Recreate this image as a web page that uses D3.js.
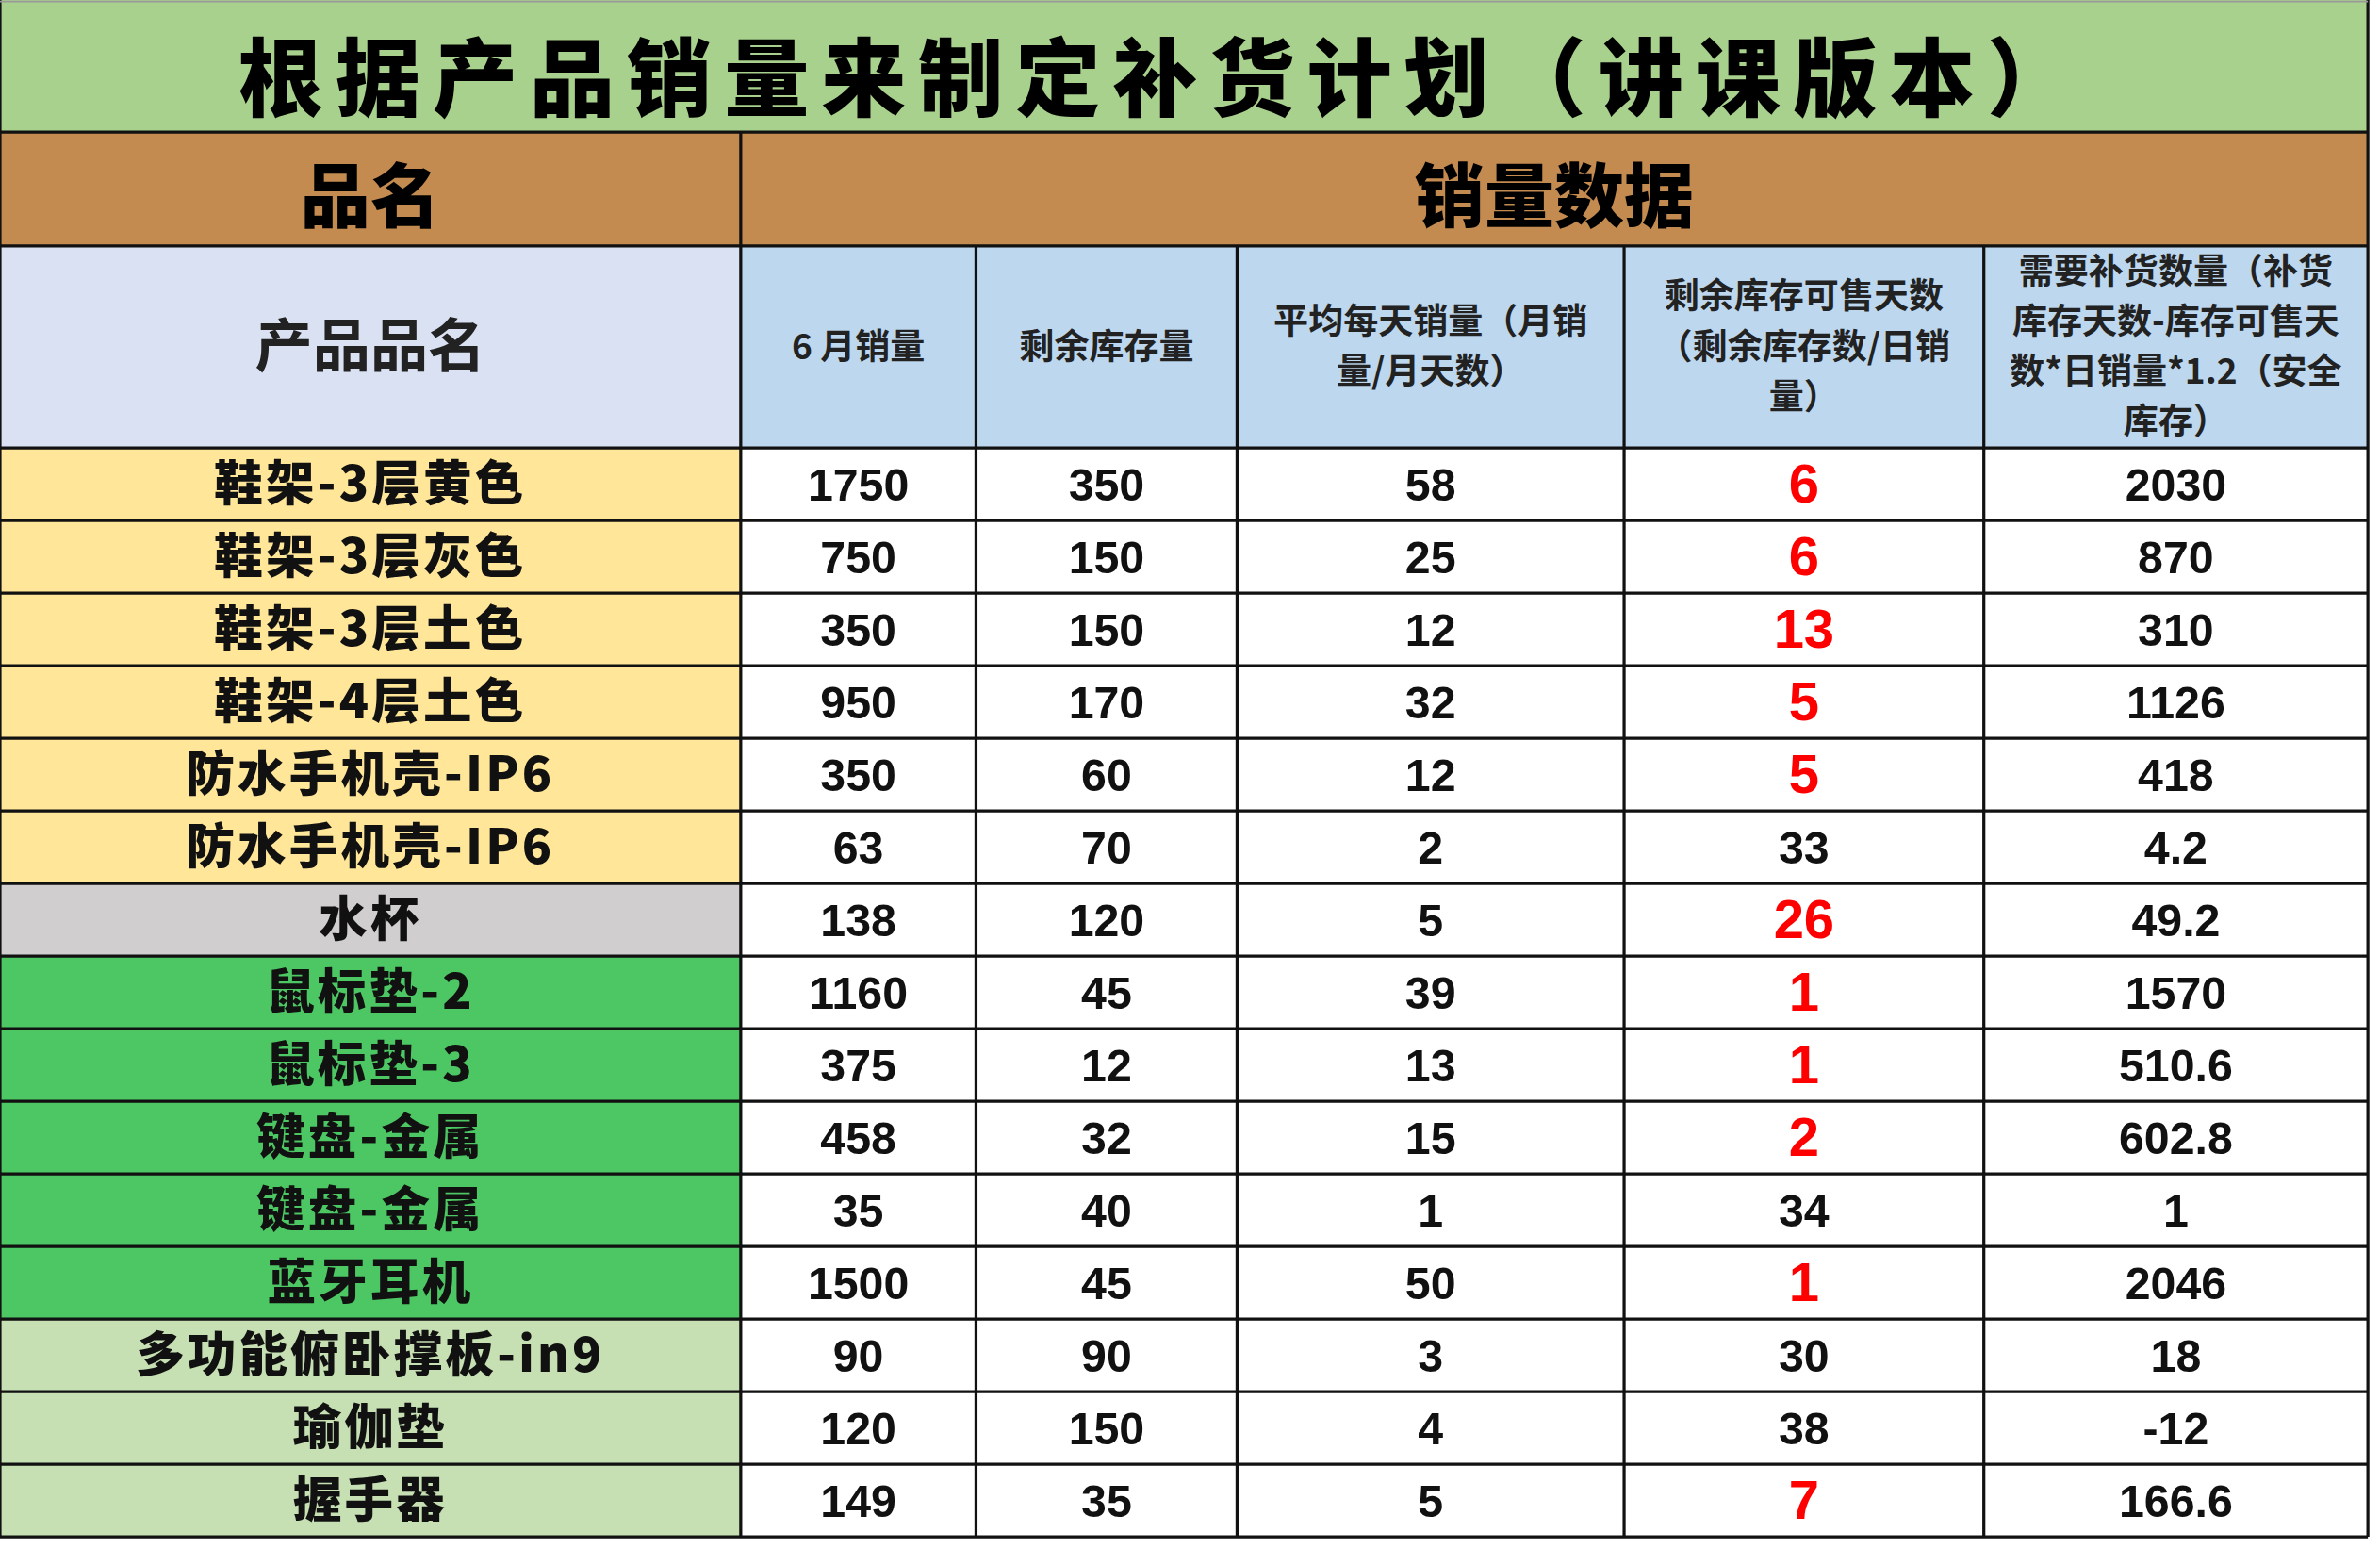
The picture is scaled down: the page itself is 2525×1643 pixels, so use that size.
<!DOCTYPE html>
<html><head><meta charset="utf-8">
<script src="https://cdn.jsdelivr.net/npm/d3@7"></script>
<style>body{margin:0;background:#fff}</style></head>
<body><svg id="c"></svg>
<script>
const title = "根据产品销量来制定补货计划（讲课版本）";
const headers = ["产品品名","6 月销量","剩余库存量","平均每天销量（月销量/月天数）","剩余库存可售天数（剩余库存数/日销量）","需要补货数量（补货库存天数-库存可售天数*日销量*1.2（安全库存）"];
const headerLines = [["产品品名"],["6 月销量"],["剩余库存量"],["平均每天销量（月销","量/月天数）"],["剩余库存可售天数","（剩余库存数/日销","量）"],["需要补货数量（补货","库存天数-库存可售天","数*日销量*1.2（安全","库存）"]];
const products = ["鞋架-3层黄色","鞋架-3层灰色","鞋架-3层土色","鞋架-4层土色","防水手机壳-IP6","防水手机壳-IP6","水杯","鼠标垫-2","鼠标垫-3","键盘-金属","键盘-金属","蓝牙耳机","多功能俯卧撑板-in9","瑜伽垫","握手器"];
const juneSales = [1750,750,350,950,350,63,138,1160,375,458,35,1500,90,120,149];
const stock = [350,150,150,170,60,70,120,45,12,32,40,45,90,150,35];
const dailySales = [58,25,12,32,12,2,5,39,13,15,1,50,3,4,5];
const daysLeft = [6,6,13,5,5,33,26,1,1,2,34,1,30,38,7];
const restock = ["2030","870","310","1126","418","4.2","49.2","1570","510.6","602.8","1","2046","18","-12","166.6"];
const groups = ["y","y","y","y","y","y","g","G","G","G","G","G","l","l","l"];
const redFlag = [1,1,1,1,1,0,1,1,1,1,0,1,0,0,1];

const W=1568,H=1020;
const svg=d3.select("#c").attr("width",2525).attr("height",1643).attr("viewBox",`0 0 ${W} ${H}`).attr("preserveAspectRatio","none");
const colX=[0,488,643,815,1070,1307,1560];
const font="'Noto Sans CJK SC','Noto Sans',sans-serif";
const y=d3.scaleBand().domain(d3.range(products.length)).range([295,1012]);
const gcol={y:"#ffe699",g:"#d0cece",G:"#4cc764",l:"#c6e0b4"};
const line="#111";
// title
svg.append("rect").attr("x",0).attr("y",0).attr("width",1560).attr("height",87).attr("fill","#a9d18e");
svg.append("text").attr("x",765).attr("y",72).attr("text-anchor","middle").attr("font-family",font).attr("font-weight",900).attr("font-size",56).attr("letter-spacing",8).text(title);
// row2
svg.append("rect").attr("x",0).attr("y",87).attr("width",1560).attr("height",75).attr("fill","#c48b50");
svg.append("text").attr("x",244).attr("y",146).attr("text-anchor","middle").attr("font-family",font).attr("font-weight",900).attr("font-size",46).text("品名");
svg.append("text").attr("x",1024).attr("y",146).attr("text-anchor","middle").attr("font-family",font).attr("font-weight",900).attr("font-size",46).text("销量数据");
// header row
headerLines.forEach((ls,i)=>{
  svg.append("rect").attr("x",colX[i]).attr("y",162).attr("width",colX[i+1]-colX[i]).attr("height",133).attr("fill",i==0?"#d9e1f2":"#bdd7ee");
  const fs=i==0?38:23, lh=i==0?0:33;
  const t=svg.append("text").attr("text-anchor","middle").attr("font-family",font).attr("font-weight",700).attr("font-size",fs).attr("fill","#222");
  const cx=(colX[i]+colX[i+1])/2, cy=228-(ls.length-1)*lh/2;
  ls.forEach((s,j)=>t.append("tspan").attr("x",cx).attr("y",cy+j*lh+fs*0.36).text(s));
});
// data rows
const cols=[products,juneSales,stock,dailySales,daysLeft,restock];
products.forEach((p,r)=>{
  svg.append("rect").attr("x",0).attr("y",y(r)).attr("width",488).attr("height",y.bandwidth()).attr("fill",gcol[groups[r]]);
  cols.forEach((c,i)=>{
    const red=i==4&&redFlag[r];
    svg.append("text").attr("x",(colX[i]+colX[i+1])/2).attr("y",y(r)+y.bandwidth()/2+(red?12:11)).attr("text-anchor","middle")
      .attr("font-family",i==0?font:"'Liberation Sans',Arial,sans-serif").attr("font-weight",i==0?900:700)
      .attr("font-size",i==0?32:red?36:30).attr("fill",red?"#ff0000":"#111").attr("letter-spacing",i==0?2:0).text(c[r]);
  });
});
// grid lines
const ys=[87,162,295,...products.map((d,i)=>y(i)+y.bandwidth())];
ys.forEach(v=>svg.append("line").attr("x1",0).attr("x2",1560).attr("y1",v).attr("y2",v).attr("stroke",line).attr("stroke-width",2));
colX.forEach((x,i)=>svg.append("line").attr("x1",x).attr("x2",x).attr("y1",i==0||i==6?0:(i==1?87:162)).attr("y2",1012).attr("stroke",line).attr("stroke-width",2));
svg.append("line").attr("x1",0).attr("x2",1560).attr("y1",1).attr("y2",1).attr("stroke","#999");
</script></body></html>
